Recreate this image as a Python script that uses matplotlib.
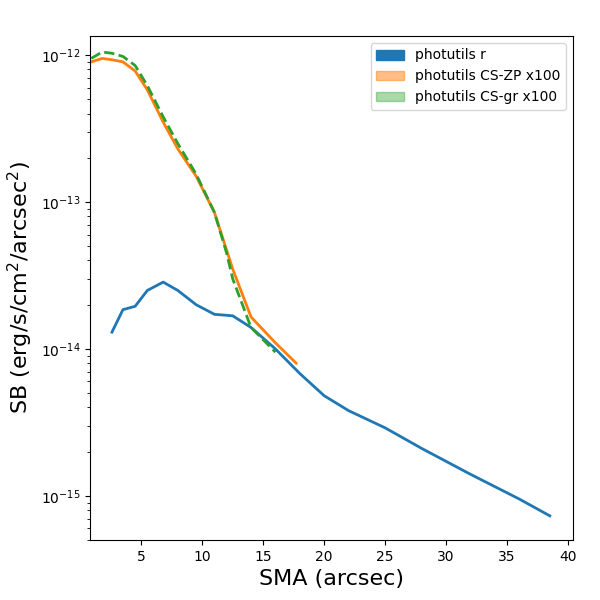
import matplotlib
matplotlib.use('Agg')
import matplotlib.pyplot as plt
import matplotlib.patches as mpatches

sma_r = [2.6, 3.5, 4.5, 5.5, 6.8, 8.0, 9.5, 11.0, 12.5, 14.0, 16.0, 18.0, 20.0, 22.0, 25.0, 28.0, 32.0, 36.0, 38.5]
sb_r = [1.3e-14, 1.85e-14, 1.95e-14, 2.5e-14, 2.85e-14, 2.5e-14, 2.0e-14, 1.72e-14, 1.68e-14, 1.4e-14,
        1.0e-14, 6.8e-15, 4.8e-15, 3.8e-15, 2.9e-15, 2.1e-15, 1.4e-15, 9.5e-16, 7.3e-16]

sma_zp = [0.9, 1.8, 2.6, 3.5, 4.5, 5.5, 6.8, 8.0, 9.5, 11.0, 12.5, 14.0, 16.0, 17.7]
sb_zp = [9.0e-13, 9.5e-13, 9.3e-13, 9.0e-13, 7.8e-13, 5.8e-13, 3.5e-13, 2.3e-13, 1.5e-13, 8.5e-14,
         3.5e-14, 1.65e-14, 1.1e-14, 8.0e-15]

sma_gr = [0.9, 1.8, 2.6, 3.5, 4.5, 5.5, 6.8, 8.0, 9.5, 11.0, 12.0, 12.5, 13.3, 14.0, 16.0]
sb_gr = [9.5e-13, 1.05e-12, 1.03e-12, 9.8e-13, 8.5e-13, 6.2e-13, 3.8e-13, 2.5e-13, 1.55e-13, 8.5e-14,
         4.5e-14, 3.0e-14, 2.0e-14, 1.4e-14, 9.5e-15]

fig, ax = plt.subplots(figsize=(6, 6), dpi=100)
ax.plot(sma_r, sb_r, color='C0', lw=2)
ax.plot(sma_zp, sb_zp, color='C1', lw=2)
ax.plot(sma_gr, sb_gr, color='C2', lw=2, ls='--')
ax.set_yscale('log')
ax.set_xlim(0.8, 40.4)
ax.set_ylim(5e-16, 1.35e-12)
ax.set_xlabel('SMA (arcsec)', fontsize=16)
ax.set_ylabel('SB (erg/s/cm$^2$/arcsec$^2$)', fontsize=16)
handles = [mpatches.Patch(color='C0', label='photutils r'),
           mpatches.Patch(color='C1', alpha=0.5, label='photutils CS-ZP x100'),
           mpatches.Patch(color='C2', alpha=0.4, label='photutils CS-gr x100')]
ax.legend(handles=handles, loc='upper right')
fig.subplots_adjust(left=0.15, right=0.955, top=0.94, bottom=0.1)
fig.savefig('out.png')
